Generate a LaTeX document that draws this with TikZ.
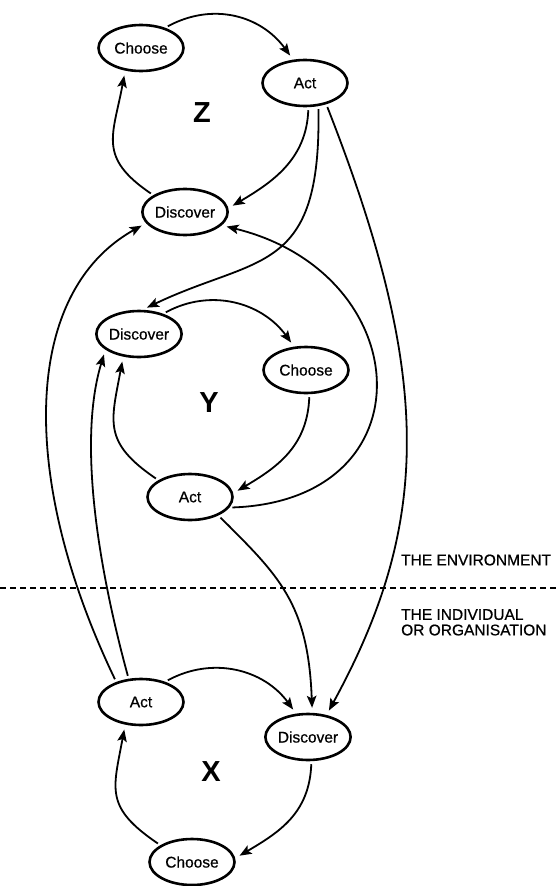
\documentclass[tikz,border=0pt]{standalone}
\usepackage{fontspec}
\setmainfont{Liberation Sans}
\newfontfamily\heavysans[FakeBold=0.7]{Liberation Sans}
\usepackage{tikz}
\usetikzlibrary{shapes.geometric,arrows.meta}

\begin{document}
\begin{tikzpicture}[x=1pt, y=-1pt,
    stage/.style={ellipse, draw, line width=2.6pt, inner sep=0pt, minimum width=85pt,
                  minimum height=46pt, font=\heavysans\fontsize{15.5}{18}\selectfont},
    flow/.style={-{Stealth[length=12pt, width=9.5pt, inset=2.5pt]}, line width=1.8pt,
                 shorten >=5pt, shorten <=3pt},
    loopname/.style={font=\fontsize{29}{32}\selectfont\bfseries},
    side/.style={font=\heavysans\fontsize{15.5}{15.5}\selectfont, inner sep=0pt, align=left}]
    \useasboundingbox (0,0) rectangle (556,886);

    % Loop Z (top)
    \node[stage] (zch)  at (141,48)  {Choose};
    \node[stage] (zact) at (305,83)  {Act};
    \node[stage] (zdis) at (185,212) {Discover};
    \node[loopname] (zname) at (202,113) {Z};

    % Loop Y (middle)
    \node[stage] (ydis) at (139,334) {Discover};
    \node[stage] (ych)  at (306,370) {Choose};
    \node[stage] (yact) at (190,497) {Act};
    \node[loopname] (yname) at (209,403) {Y};

    % Loop X (bottom)
    \node[stage] (xact) at (141,702) {Act};
    \node[stage] (xdis) at (308,737) {Discover};
    \node[stage] (xch)  at (192,862) {Choose};
    \node[loopname] (xname) at (211,772) {X};

    % Arrows inside each loop
    \foreach \a/\b in {zch/zact, ydis/ych, xact/xdis} {
        \draw[flow] (\a.40) .. controls +(48,-26) and +(-32,-44) .. (\b.117);
    }
    \foreach \a/\b in {zact/zdis, ych/yact, xdis/xch} {
        \draw[flow] (\a.-82) .. controls +(-2,52) and +(44,-26) .. (\b.5);
    }
    \foreach \a/\b in {zdis/zch, yact/ydis, xch/xact} {
        \draw[flow] (\a.152) .. controls +(-56,-38) and +(-12,65) .. (\b.235);
    }

    % Arrows between the loops
    \draw[flow] (zact.-60) .. controls +(3,170) and +(115,-55) .. (ydis.82);
    \draw[flow] (zact.-45) .. controls +(108,275) and +(104,-190) .. (xdis.50);
    \draw[flow] (yact.-15) .. controls +(202,-7) and +(196,48) .. (zdis.-20);
    \draw[flow] (yact.-33) .. controls +(60,60) and +(-4,-110) .. (xdis.80);
    \draw[flow] (xact.141) .. controls +(-97,-202) and +(-125,70) .. (zdis.196);
    \draw[flow] (xact.118) .. controls +(-30,-110) and +(-28,92) .. (ydis.205);

    % Boundary between environment and individual
    \draw[line width=1.2pt, dash pattern=on 6pt off 4pt] (0,588) -- (556,588);
    \node[side, anchor=west] (envlabel) at (401,560) {THE ENVIRONMENT};
    \node[side, anchor=north west] (orglabel) at (401,609) {THE INDIVIDUAL\\OR ORGANISATION};
\end{tikzpicture}
\end{document}
